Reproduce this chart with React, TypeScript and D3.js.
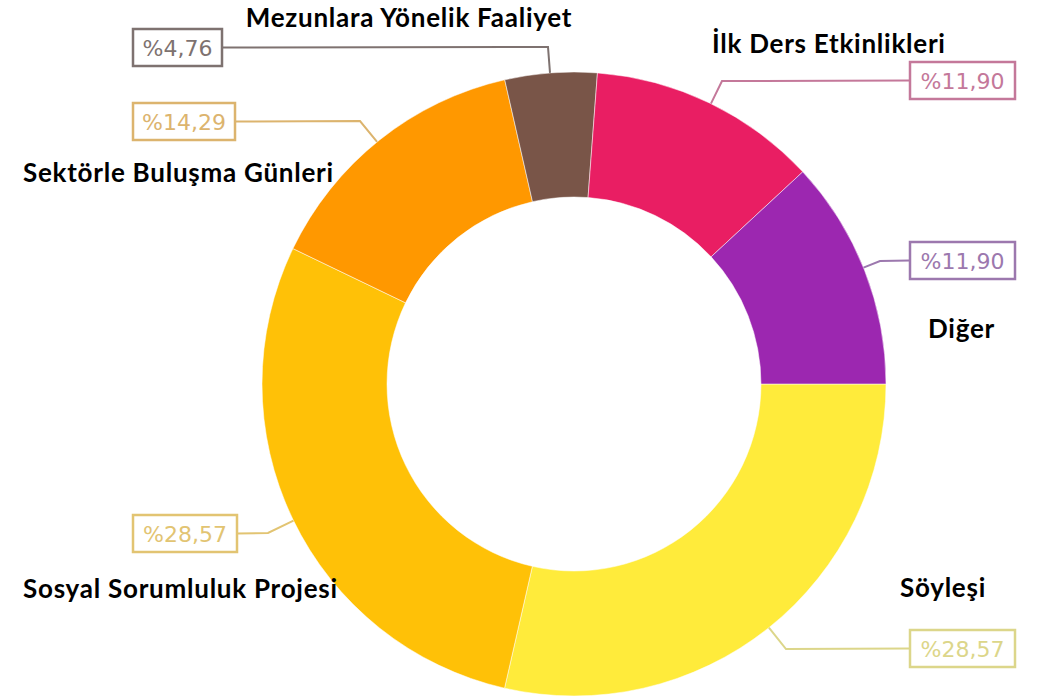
import React from 'react';
import * as d3 from 'd3';

// slices, clockwise from 3 o'clock
const categories = ['Söyleşi', 'Sosyal Sorumluluk Projesi', 'Sektörle Buluşma Günleri', 'Mezunlara Yönelik Faaliyet', 'İlk Ders Etkinlikleri', 'Diğer'];
const values = [28.57, 28.57, 14.29, 4.76, 11.9, 11.9];
const colors = ['#FFEB3B', '#FFC107', '#FF9800', '#795548', '#E91E63', '#9C27B0'];
const labelInk = ['#dcd68a', '#e2c472', '#dcb46e', '#7e7270', '#c4789a', '#9c78ae'];

// layout of callouts: [box left, box top, box width, elbow x, elbow y]
const boxLayout: [number, number, number, number, number][] = [
  [910, 630, 105, 786, 649],
  [133, 515, 104, 268, 533],
  [133, 103, 102, 360, 121],
  [133, 29, 89, 548, 47],
  [910, 62, 105, 722, 81],
  [910, 242, 105, 880, 261],
];
// category name: [x, baseline y, anchor]
const nameLayout: [number, number, string][] = [
  [900, 597, 'start'],
  [23, 598, 'start'],
  [23, 182, 'start'],
  [409, 27, 'middle'],
  [712, 53, 'start'],
  [928, 338, 'start'],
];

const W = 1038;
const H = 700;
const cx = 574;
const cy = 384;
const outerR = 312;
const innerR = 187;

const fmt = (v: number) => '%' + v.toFixed(2).replace('.', ',');

export default function App() {
  const pie = d3.pie<number>().sort(null).startAngle(Math.PI / 2).endAngle(Math.PI / 2 + 2 * Math.PI);
  const arcs = pie(values);
  const arc = d3.arc<d3.PieArcDatum<number>>().innerRadius(innerR).outerRadius(outerR);

  return (
    <svg width={W} height={H} style={{ position: 'fixed', left: 0, top: 0, background: '#fff' }}>
      <g transform={`translate(${cx},${cy})`}>
        {arcs.map((a, i) => (
          <path key={i} d={arc(a) || ''} fill={colors[i]} stroke="rgba(255,255,255,0.5)" strokeWidth={1} />
        ))}
      </g>
      {arcs.map((a, i) => {
        const [bx, by, bw, ex, ey] = boxLayout[i];
        const bh = 37;
        const midY = by + bh / 2;
        const rightSide = bx > cx;
        const sx = rightSide ? bx : bx + bw;
        // project elbow toward the centre onto the outer rim
        const dx = ex - cx;
        const dy = ey - cy;
        const d = Math.sqrt(dx * dx + dy * dy);
        const px = cx + (dx / d) * outerR;
        const py = cy + (dy / d) * outerR;
        return (
          <g key={'c' + i}>
            <polyline points={`${sx},${midY} ${ex},${ey} ${px},${py}`} fill="none" stroke={labelInk[i]} strokeWidth={2} />
            <rect x={bx} y={by} width={bw} height={bh} fill="#fff" stroke={labelInk[i]} strokeWidth={2.5} />
            <text x={bx + bw / 2} y={midY + 8} textAnchor="middle" fontFamily="DejaVu Sans" fontSize={22} fill={labelInk[i]}>
              {fmt(values[i])}
            </text>
          </g>
        );
      })}
      {categories.map((c, i) => (
        <text key={'n' + i} x={nameLayout[i][0]} y={nameLayout[i][1]} textAnchor={nameLayout[i][2]} fontFamily="Lato" fontWeight="bold" fontSize={26} letterSpacing={0.75} fill="#000">
          {c}
        </text>
      ))}
    </svg>
  );
}
